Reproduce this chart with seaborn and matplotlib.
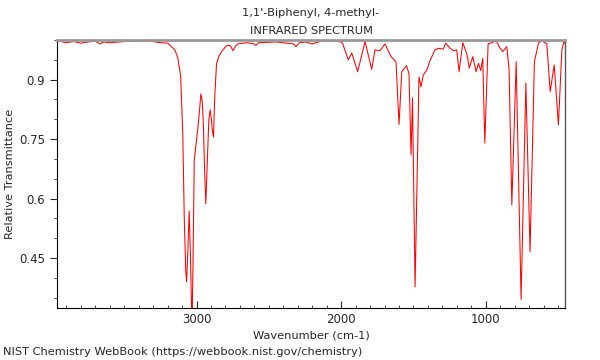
import numpy as np
import pandas as pd
import seaborn as sns
import matplotlib
matplotlib.use("Agg")
import matplotlib.pyplot as plt
from matplotlib.ticker import FixedLocator, MultipleLocator

# spectrum: wavenumber (cm-1) and relative transmittance
wavenumber = [3965, 3950, 3900, 3850, 3800, 3750, 3700, 3668, 3640, 3600, 3500, 3400, 3300,
              3250, 3199, 3150, 3130, 3110, 3095, 3085, 3075, 3069, 3060, 3051, 3042,
              3035, 3030, 3024, 3016, 3000, 2985, 2970, 2962, 2954, 2945, 2936, 2925,
              2915, 2906, 2898, 2890, 2883, 2875, 2862, 2845, 2828, 2800, 2782, 2765,
              2748, 2730, 2715, 2650, 2600, 2591, 2570, 2450, 2330, 2312, 2290, 2250,
              2200, 2150, 2050, 2000, 1989, 1951, 1927, 1886, 1835, 1789, 1766, 1732,
              1697, 1655, 1621, 1600, 1581, 1548, 1531, 1517, 1507, 1489, 1462, 1448,
              1432, 1408, 1386, 1351, 1328, 1294, 1277, 1247, 1224, 1201, 1185, 1159,
              1132, 1114, 1090, 1067, 1051, 1035, 1021, 1007, 984, 959, 929, 901, 882,
              855, 839, 820, 790, 756, 723, 694, 664, 636, 613, 578, 555, 527, 498,
              474, 456, 451]
transmittance = [0.995, 0.997, 0.993, 0.996, 0.992, 0.995, 0.997, 0.990, 0.995, 0.993, 0.996,
                 0.997, 0.996, 0.993, 0.992, 0.975, 0.955, 0.910, 0.760, 0.550, 0.420,
                 0.390, 0.470, 0.569, 0.450, 0.330, 0.310, 0.450, 0.697, 0.748, 0.800,
                 0.864, 0.850, 0.800, 0.680, 0.587, 0.700, 0.800, 0.824, 0.800, 0.770,
                 0.755, 0.850, 0.940, 0.960, 0.970, 0.983, 0.987, 0.985, 0.973, 0.985,
                 0.990, 0.993, 0.990, 0.986, 0.993, 0.995, 0.990, 0.983, 0.993, 0.995,
                 0.990, 0.996, 0.997, 0.995, 0.990, 0.950, 0.967, 0.920, 0.996, 0.926,
                 0.975, 0.973, 0.990, 0.958, 0.945, 0.787, 0.920, 0.935, 0.915, 0.710,
                 0.854, 0.378, 0.907, 0.882, 0.912, 0.924, 0.948, 0.975, 0.979, 0.977,
                 0.992, 0.979, 0.973, 0.975, 0.920, 0.993, 0.966, 0.929, 0.958, 0.920,
                 0.941, 0.923, 0.954, 0.740, 0.990, 0.993, 0.998, 0.979, 0.971, 0.983,
                 0.924, 0.584, 0.945, 0.346, 0.891, 0.466, 0.945, 0.992, 0.998, 0.990,
                 0.870, 0.937, 0.786, 0.975, 1.000, 0.990]

y_ticks = [0.45, 0.6, 0.75, 0.9]
y_tick_labels = ["0.45", "0.6", "0.75", "0.9"]
x_ticks = [3000, 2000, 1000]

df = pd.DataFrame({"wavenumber": wavenumber, "transmittance": transmittance})

sns.set_style("ticks")
plt.rcParams["font.family"] = ["DejaVu Sans"]
fs = 8.2

fig = plt.figure(figsize=(6, 3.6), dpi=100)
ax = fig.add_axes([0.095, 0.144, 0.847, 0.745])

sns.lineplot(data=df, x="wavenumber", y="transmittance", sort=False,
             color="red", linewidth=0.75, ax=ax)

ax.set_xlim(3965, 451)
ax.set_ylim(0.324, 1.0)

ax.xaxis.set_major_locator(FixedLocator(x_ticks))
ax.xaxis.set_minor_locator(MultipleLocator(100))
ax.yaxis.set_major_locator(FixedLocator(y_ticks))
ax.set_yticklabels(y_tick_labels)
ax.yaxis.set_minor_locator(MultipleLocator(0.05))

ax.tick_params(axis="x", which="major", direction="in", length=5, labelsize=8.5)
ax.tick_params(axis="x", which="minor", direction="in", length=2.5)
ax.tick_params(axis="y", which="major", direction="out", length=5, labelsize=8.5)
ax.tick_params(axis="y", which="minor", direction="out", length=2.5)

for side in ["left", "bottom"]:
    ax.spines[side].set_color("black")
    ax.spines[side].set_linewidth(0.8)
ax.spines["top"].set_color("#999999")
ax.spines["top"].set_linewidth(2)
ax.spines["right"].set_color("#555555")
ax.spines["right"].set_linewidth(1)

ax.set_title("1,1'-Biphenyl, 4-methyl-\nINFRARED SPECTRUM", fontsize=fs, pad=4.5,
             linespacing=2.0)
ax.set_xlabel("Wavenumber (cm-1)", fontsize=fs, labelpad=3)
ax.set_ylabel("Relative Transmittance", fontsize=fs)
ax.yaxis.set_label_coords(-0.083, 0.5)

fig.text(0.005, 0.022, "NIST Chemistry WebBook (https://webbook.nist.gov/chemistry)",
         fontsize=fs, ha="left", va="center")

plt.savefig("out.png", dpi=100)
